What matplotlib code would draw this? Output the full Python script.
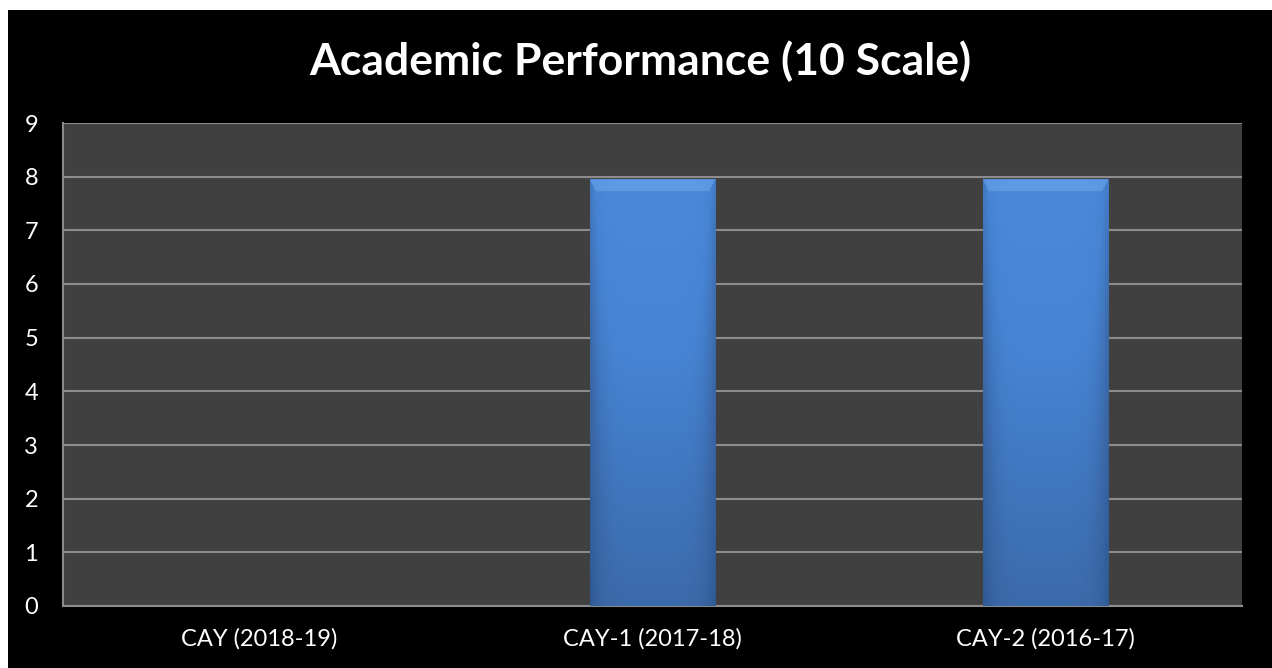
import matplotlib
matplotlib.use('Agg')
import matplotlib.pyplot as plt
import numpy as np
from matplotlib.patches import Rectangle
from matplotlib.colors import LinearSegmentedColormap

categories = ['CAY (2018-19)', 'CAY-1 (2017-18)', 'CAY-2 (2016-17)']
scores = [0, 7.95, 7.95]
yticks = list(range(0, 10))

W, H = 1272, 668
fig = plt.figure(figsize=(W / 100, H / 100), dpi=100)
fig.patch.set_facecolor('white')
# black chart area, thin white margin on top/left
fig.patches.append(Rectangle((8 / W, 0), 1 - 8 / W, 1 - 10 / H,
                             transform=fig.transFigure, facecolor='black',
                             edgecolor='none', zorder=-5))

ax = fig.add_axes([63 / W, 1 - 606 / H, (1242 - 63) / W, (606 - 123) / H])
ax.set_zorder(2)
ax.set_facecolor('#404040')
ax.set_xlim(-0.5, 2.5)
ax.set_ylim(0, 9)
ax.set_yticks(yticks)
ax.set_xticks(range(len(categories)))
ax.set_xticklabels(categories)
for s in ax.spines.values():
    s.set_visible(False)
ax.spines['bottom'].set_visible(True)
ax.spines['bottom'].set_color('#8c8c8c')
ax.spines['bottom'].set_linewidth(1.5)
ax.spines['left'].set_visible(True)
ax.spines['left'].set_color('#8c8c8c')
ax.spines['left'].set_linewidth(1.5)
ax.grid(axis='y', color='#8c8c8c', linewidth=1.5)
ax.set_axisbelow(True)
ax.tick_params(length=0, colors='white', labelsize=17)
ax.tick_params(axis='y', pad=18)
ax.tick_params(axis='x', pad=16)
for lbl in ax.get_xticklabels() + ax.get_yticklabels():
    lbl.set_fontfamily('Lato')
    lbl.set_color('white')

bars = ax.bar(range(len(categories)), scores, width=0.32, color='#4a80cc',
              edgecolor='none', zorder=3)

# bevel-like gradient on each bar
cmap = LinearSegmentedColormap.from_list('b', ['#2f5a94', '#3b69aa', '#4683d2', '#4f8ddc'])
xs = np.linspace(-1, 1, 60)
ys = np.linspace(0, 1, 200)
X, Y = np.meshgrid(xs, ys)
grad = 0.35 + 0.55 * Y - 0.35 * np.abs(X) ** 6
for b in bars:
    h = b.get_height()
    if h <= 0:
        continue
    x0 = b.get_x()
    w = b.get_width()
    im = ax.imshow(grad, extent=[x0, x0 + w, 0, h], origin='lower', cmap=cmap,
                   vmin=0, vmax=1, aspect='auto', zorder=4)
    im.set_clip_path(b)
    # light top bevel
    ax.fill([x0, x0 + w, x0 + w * 0.95, x0 + w * 0.05],
            [h, h, h - 0.22, h - 0.22], color='#6aa6ec', alpha=0.6,
            zorder=5, linewidth=0)
ax.set_xlim(-0.5, 2.5)
ax.set_ylim(0, 9)

fig.text(640 / W, 1 - 61 / H, 'Academic Performance (10 Scale)', color='white',
         fontsize=32, fontweight='bold', fontfamily='Lato', ha='center', va='center')

fig.savefig('out.png', dpi=100, facecolor=fig.get_facecolor())
